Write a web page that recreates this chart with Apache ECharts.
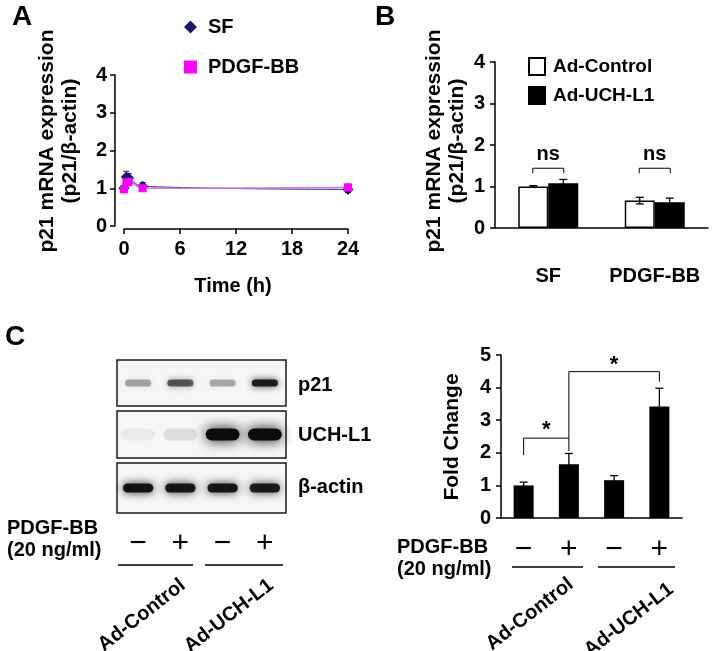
<!DOCTYPE html>
<html><head><meta charset="utf-8">
<script src="https://cdn.jsdelivr.net/npm/echarts@6/dist/echarts.min.js"></script>
<style>html,body{margin:0;padding:0;background:#fff}#c{width:714px;height:651px}</style>
</head><body><div id="c"></div>
<script>
// ---------- Panel A: p21 mRNA time course ----------
const timeHours = [0, 0.25, 0.5, 2, 24];
const timeTicks = [0, 6, 12, 18, 24];
const sfMean = [1.00, 1.30, 1.27, 1.05, 0.97];
const sfErr = [0.05, 0.15, 0.12, 0.10, 0.08];
const pdgfMean = [0.97, 1.15, 1.17, 1.00, 1.02];
const pdgfErr = [0.04, 0.08, 0.06, 0.05, 0.10];

// ---------- Panel B: p21 mRNA by adenovirus ----------
const bCategories = ['SF', 'PDGF-BB'];
const bControlMean = [1.00, 0.66];
const bControlErr = [0.02, 0.08];
const bUchMean = [1.08, 0.62];
const bUchErr = [0.09, 0.10];
const bBracketTop = [1.44, 1.44];
const bBracketEnd = [1.32, 1.32];
const bBracketText = ['ns', 'ns'];
const bTextY = [1.76, 1.76];

// ---------- Panel C: western blot ----------
const blotLanes = ['1', '2', '3', '4'];
const pdgfSigns = ['\u2212', '+', '\u2212', '+'];
const blotRows = ['p21', 'UCH-L1', '\u03b2-actin'];
const p21Band = [0.32, 0.62, 0.3, 0.88];
const uchBand = [0.05, 0.1, 1.0, 1.0];
const actinBand = [0.95, 0.92, 0.92, 0.9];
const groupNames = ['Ad-Control', 'Ad-UCH-L1'];

// ---------- Panel C: fold change bars ----------
const cMean = [1.00, 1.65, 1.16, 3.42];
const cErr = [0.10, 0.33, 0.14, 0.56];
// brackets: [fromCat, toCat, topY, leftEndY, rightEndY]
const cBrackets = [[0, 1, 2.45, 1.93, 2.05], [1, 3, 4.49, 2.45, 4.18]];
// significance stars: [fromCat, toCat, y]
const cStars = [[0, 1, 2.70], [1, 3, 4.69]];

const FONT = '"Liberation Sans", Arial, Helvetica, sans-serif';
const BOLD = (s) => 'bold ' + s + 'px ' + FONT;
const tickLabel = {fontSize: 20, fontWeight: 'bold', color: '#000', fontFamily: FONT};
const axLine = {show: true, onZero: false, lineStyle: {color: '#000', width: 1.5}};
const axTick = {show: true, inside: false, length: 5, lineStyle: {color: '#000', width: 1.5}};

function errRender(offsetPx, cap, color, lw) {
  return function (params, api) {
    const x = api.value(0), m = api.value(1), e = api.value(2);
    const p1 = api.coord([x, m + e]);
    const p0 = api.coord([x, m - e]);
    const cx = p1[0] + offsetPx;
    const st = {stroke: color, lineWidth: lw};
    return {type: 'group', children: [
      {type: 'line', shape: {x1: cx, y1: p0[1], x2: cx, y2: p1[1]}, style: st},
      {type: 'line', shape: {x1: cx - cap, y1: p1[1], x2: cx + cap, y2: p1[1]}, style: st},
      {type: 'line', shape: {x1: cx - cap, y1: p0[1], x2: cx + cap, y2: p0[1]}, style: st}
    ]};
  };
}

function bandRender(h, wFrac) {
  return function (params, api) {
    const lane = api.value(0), a = api.value(1);
    const c = api.coord([lane, 0.5]);
    const w = api.size([1, 0])[0] * wFrac;
    const col = 'rgba(12,12,12,' + a + ')';
    return {type: 'rect', shape: {x: c[0] - w / 2, y: c[1] - h / 2, width: w, height: h, r: h / 2},
      style: {fill: col, shadowBlur: h * 1.1, shadowColor: col}};
  };
}

function txt(text, x, y, size, align, valign, rot, weight) {
  return {type: 'text', x: x, y: y, rotation: rot || 0, silent: true,
    style: {text: text, font: (weight || 'bold') + ' ' + size + 'px ' + FONT, fill: '#000',
      textAlign: align || 'left', textVerticalAlign: valign || 'middle', lineHeight: size + 2}};
}
function ln(x1, y1, x2, y2) {
  return {type: 'line', silent: true, shape: {x1: x1, y1: y1, x2: x2, y2: y2}, style: {stroke: '#000', lineWidth: 1.3}};
}

const blotGridBase = {left: 117, width: 169, show: true, borderColor: '#1a1a1a', borderWidth: 1.5, backgroundColor: '#f6f6f6'};
const blotX = (showLabels) => ({type: 'category', data: blotLanes, axisLine: {show: false}, axisTick: {show: false},
  axisLabel: {show: showLabels, margin: 16, fontSize: 30, fontWeight: 'normal', color: '#000', fontFamily: FONT,
    formatter: (v, i) => pdgfSigns[i]}});
const blotY = {type: 'value', min: 0, max: 1, show: false};

const rot = 38 * Math.PI / 180;

const option = {
  animation: false,
  backgroundColor: '#fff',
  grid: [
    {left: 124, top: 75, width: 224, height: 151},            // A
    {left: 495, top: 62, width: 213, height: 166},            // B
    Object.assign({top: 360, height: 46}, blotGridBase),      // blot p21
    Object.assign({top: 411, height: 47}, blotGridBase),      // blot UCH-L1
    Object.assign({top: 463, height: 50}, blotGridBase),      // blot actin
    {left: 501, top: 355, width: 181, height: 163}            // C bars
  ],
  xAxis: [
    {gridIndex: 0, type: 'value', min: 0, max: 24, interval: 6, offset: 3,
      axisLine: axLine, axisTick: axTick, splitLine: {show: false},
      axisLabel: Object.assign({margin: 10}, tickLabel)},
    {gridIndex: 1, type: 'category', data: bCategories, axisLine: axLine, axisTick: {show: false},
      axisLabel: Object.assign({margin: 38, interval: 0}, tickLabel)},
    Object.assign({gridIndex: 2}, blotX(false)),
    Object.assign({gridIndex: 3}, blotX(false)),
    Object.assign({gridIndex: 4}, blotX(true)),
    {gridIndex: 5, type: 'category', data: blotLanes, axisLine: axLine, axisTick: {show: false},
      axisLabel: {margin: 17, interval: 0, fontSize: 30, fontWeight: 'normal', color: '#000', fontFamily: FONT,
        formatter: (v, i) => pdgfSigns[i]}}
  ],
  yAxis: [
    {gridIndex: 0, type: 'value', min: 0, max: 4, interval: 1, offset: 9,
      axisLine: axLine, axisTick: axTick, splitLine: {show: false},
      axisLabel: Object.assign({margin: 8}, tickLabel)},
    {gridIndex: 1, type: 'value', min: 0, max: 4, interval: 1,
      axisLine: axLine, axisTick: axTick, splitLine: {show: false},
      axisLabel: Object.assign({margin: 10}, tickLabel)},
    Object.assign({gridIndex: 2}, blotY),
    Object.assign({gridIndex: 3}, blotY),
    Object.assign({gridIndex: 4}, blotY),
    {gridIndex: 5, type: 'value', min: 0, max: 5, interval: 1,
      axisLine: axLine, axisTick: axTick, splitLine: {show: false},
      axisLabel: Object.assign({margin: 10}, tickLabel)}
  ],
  legend: [
    {data: [{name: 'SF', icon: 'diamond'}, {name: 'PDGF-BB', icon: 'rect'}],
      orient: 'vertical', left: 184, top: 17, padding: 0, itemWidth: 13, itemHeight: 13, itemGap: 20,
      textStyle: {fontSize: 20, fontWeight: 'bold', color: '#000', fontFamily: FONT, padding: [0, 0, 0, 6]}},
    {data: [{name: 'Ad-Control', icon: 'rect'}, {name: 'Ad-UCH-L1', icon: 'rect'}], orient: 'vertical', left: 528, top: 57,
      padding: 0, itemWidth: 16, itemHeight: 17, itemGap: 10,
      textStyle: {fontSize: 19, fontWeight: 'bold', color: '#000', fontFamily: FONT, padding: [0, 0, 0, 3]}}
  ],
  series: [
    // Panel A
    {type: 'custom', name: 'SF err', xAxisIndex: 0, yAxisIndex: 0, z: 1,
      renderItem: errRender(0, 3, '#1b1b6b', 1),
      data: timeHours.map((t, i) => [t, sfMean[i], sfErr[i]])},
    {type: 'custom', name: 'PDGF err', xAxisIndex: 0, yAxisIndex: 0, z: 1,
      renderItem: errRender(0, 3, '#e040e8', 1),
      data: timeHours.map((t, i) => [t, pdgfMean[i], pdgfErr[i]])},
    {type: 'line', name: 'SF', xAxisIndex: 0, yAxisIndex: 0, z: 3, smooth: 0.4,
      symbol: 'diamond', symbolSize: 11,
      itemStyle: {color: '#1b1b6b'}, lineStyle: {color: '#2a2a80', width: 1},
      data: timeHours.map((t, i) => [t, sfMean[i]])},
    {type: 'line', name: 'PDGF-BB', xAxisIndex: 0, yAxisIndex: 0, z: 4, smooth: 0.4,
      symbol: 'rect', symbolSize: 8,
      itemStyle: {color: '#ff00ff'}, lineStyle: {color: '#d66ef0', width: 1.5},
      data: timeHours.map((t, i) => [t, pdgfMean[i]])},
    // Panel B
    {type: 'bar', name: 'Ad-Control', xAxisIndex: 1, yAxisIndex: 1, barWidth: 30, barGap: '0%',
      itemStyle: {color: '#fff', borderColor: '#000', borderWidth: 1.5}, data: bControlMean},
    {type: 'bar', name: 'Ad-UCH-L1', xAxisIndex: 1, yAxisIndex: 1, barWidth: 30, barGap: '0%',
      itemStyle: {color: '#000', borderColor: '#000', borderWidth: 1.5}, data: bUchMean},
    {type: 'custom', name: 'B ctrl err', xAxisIndex: 1, yAxisIndex: 1, z: 5,
      renderItem: errRender(-15, 4, '#000', 1.3),
      data: bCategories.map((c, i) => [i, bControlMean[i], bControlErr[i]])},
    {type: 'custom', name: 'B uch err', xAxisIndex: 1, yAxisIndex: 1, z: 5,
      renderItem: errRender(15, 4, '#000', 1.3),
      data: bCategories.map((c, i) => [i, bUchMean[i], bUchErr[i]])},
    {type: 'custom', name: 'B brackets', xAxisIndex: 1, yAxisIndex: 1, z: 5,
      renderItem: function (params, api) {
        const i = api.value(0);
        const top = api.coord([i, api.value(1)]), end = api.coord([i, api.value(2)]), t = api.coord([i, api.value(3)]);
        return {type: 'group', children: [
          {type: 'polyline', shape: {points: [[top[0] - 15.5, end[1]], [top[0] - 15.5, top[1]], [top[0] + 15.5, top[1]], [top[0] + 15.5, end[1]]]},
            style: {stroke: '#000', lineWidth: 1, fill: null}},
          {type: 'text', x: t[0], y: t[1], style: {text: bBracketText[params.dataIndex], font: BOLD(20), fill: '#000',
            textAlign: 'center', textVerticalAlign: 'middle'}}
        ]};
      },
      data: bCategories.map((c, i) => [i, bBracketTop[i], bBracketEnd[i], bTextY[i]])},
    // Blot
    {type: 'custom', name: 'p21 band', xAxisIndex: 2, yAxisIndex: 2, renderItem: bandRender(7, 0.62),
      data: blotLanes.map((l, i) => [i, p21Band[i]])},
    {type: 'custom', name: 'UCH band', xAxisIndex: 3, yAxisIndex: 3, renderItem: bandRender(12, 0.8),
      data: blotLanes.map((l, i) => [i, uchBand[i]])},
    {type: 'custom', name: 'actin band', xAxisIndex: 4, yAxisIndex: 4, renderItem: bandRender(9, 0.72),
      data: blotLanes.map((l, i) => [i, actinBand[i]])},
    // Panel C bars
    {type: 'bar', name: 'Fold Change', xAxisIndex: 5, yAxisIndex: 5, barWidth: 20,
      itemStyle: {color: '#000'}, data: cMean},
    {type: 'custom', name: 'C err', xAxisIndex: 5, yAxisIndex: 5, z: 5,
      renderItem: errRender(0, 4, '#000', 1.3),
      data: cMean.map((m, i) => [i, m, cErr[i]])},
    {type: 'custom', name: 'C brackets', xAxisIndex: 5, yAxisIndex: 5, z: 5,
      renderItem: function (params, api) {
        const a = api.value(0), b = api.value(1);
        const pTopA = api.coord([a, api.value(2)]), pTopB = api.coord([b, api.value(2)]);
        const pEndA = api.coord([a, api.value(3)]), pEndB = api.coord([b, api.value(4)]);
        return {type: 'polyline', shape: {points: [[pEndA[0], pEndA[1]], [pTopA[0], pTopA[1]], [pTopB[0], pTopB[1]], [pEndB[0], pEndB[1]]]},
          style: {stroke: '#000', lineWidth: 1, fill: null}};
      },
      data: cBrackets},
    {type: 'custom', name: 'C stars', xAxisIndex: 5, yAxisIndex: 5, z: 5,
      renderItem: function (params, api) {
        const pa = api.coord([api.value(0), api.value(2)]);
        const pb = api.coord([api.value(1), api.value(2)]);
        return {type: 'text', x: (pa[0] + pb[0]) / 2, y: pa[1], style: {text: '*', font: BOLD(22), fill: '#000',
          textAlign: 'center', textVerticalAlign: 'middle'}};
      },
      data: cStars}
  ],
  graphic: [
    txt('A', 12, 17, 28),
    txt('B', 375, 17, 28),
    txt('C', 5, 337, 28),
    txt('p21 mRNA expression\n(p21/\u03b2-actin)', 59, 141, 21, 'center', 'middle', Math.PI / 2),
    txt('Time (h)', 233, 286, 20, 'center'),
    txt('p21 mRNA expression\n(p21/\u03b2-actin)', 446, 141, 21, 'center', 'middle', Math.PI / 2),
    txt('Fold Change', 452, 437, 21, 'center', 'middle', Math.PI / 2),
    txt(blotRows[0], 298, 385, 20),
    txt(blotRows[1], 298, 435, 20),
    txt(blotRows[2], 298, 487, 20),
    txt('PDGF-BB\n(20 ng/ml)', 7, 539, 20, 'left', 'middle'),
    ln(118, 565, 193, 565), ln(205, 565, 283, 565),
    txt(groupNames[0], 183, 583, 20, 'right', 'middle', rot),
    txt(groupNames[1], 271, 583, 20, 'right', 'middle', rot),
    txt('PDGF-BB\n(20 ng/ml)', 397, 558, 20, 'left', 'middle'),
    ln(512, 567, 583, 567), ln(598, 567, 675, 567),
    txt(groupNames[0], 571, 582, 20, 'right', 'middle', rot),
    txt(groupNames[1], 671, 587, 20, 'right', 'middle', rot)
  ]
};

const chart = echarts.init(document.getElementById('c'), null, {renderer: 'canvas'});
chart.setOption(option);
</script>
</body></html>
